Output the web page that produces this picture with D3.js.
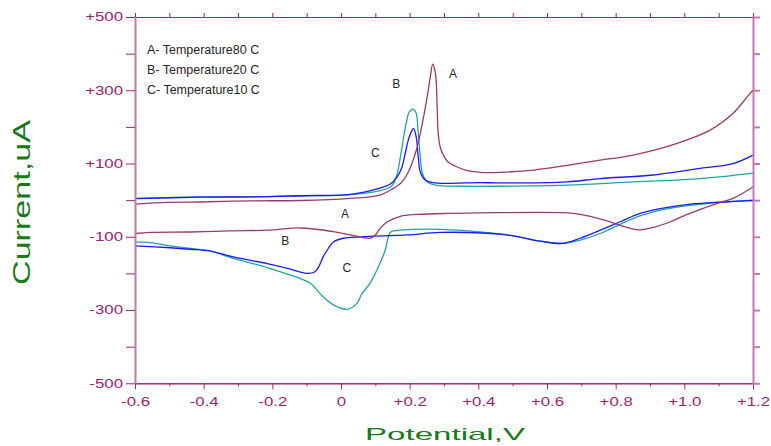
<!DOCTYPE html>
<html>
<head>
<meta charset="utf-8">
<script src="https://cdn.jsdelivr.net/npm/d3@7"></script>
<style>
  html, body { margin: 0; padding: 0; background: #fff; }
  svg { display: block; font-family: Arial, "Liberation Sans", sans-serif; }
</style>
</head>
<body>
<div id="chart"></div>
<script>
// curve A - 80 C, forward sweep
let potAfwd = [-0.60, -0.526, -0.41, -0.264, -0.118, 0.027, 0.114, 0.152, 0.178, 0.196, 0.210, 0.222, 0.237, 0.251, 0.260, 0.267,
    0.275, 0.280, 0.283, 0.289, 0.298, 0.312, 0.333, 0.362, 0.406, 0.464, 0.562, 0.659, 0.755, 0.851, 0.979, 1.075, 1.142, 1.183, 1.20];
let curAfwd = [-11, -7, -5, -2, -1, 5, 14, 32, 50, 77, 109, 145, 210, 282, 336, 371,
    346, 255, 183, 145, 123, 104, 93, 82, 76, 76, 82, 95, 109, 123, 155, 191, 237, 282, 300];
// curve A, reverse sweep
let potArev = [1.20, 1.142, 1.105, 1.047, 1.003, 0.959, 0.915, 0.871, 0.828, 0.784, 0.726, 0.676, 0.639, 0.464, 0.318, 0.222, 0.173,
    0.135, 0.114, 0.100, 0.085, 0.065, 0.027, -0.022, -0.118, -0.215, -0.322, -0.439, -0.555, -0.60];
let curArev = [36, 5, -6, -25, -41, -59, -73, -81, -73, -59, -44, -36, -34, -34, -36, -39, -44,
    -59, -77, -95, -104, -102, -95, -86, -76, -82, -84, -87, -88, -91];

// curve B - 20 C
let potBfwd = [-0.60, -0.41, -0.264, -0.118, 0.027, 0.09, 0.144, 0.164, 0.178, 0.187, 0.196, 0.207, 0.211, 0.219, 0.225, 0.231,
    0.245, 0.275, 0.406, 0.464, 0.659, 0.755, 0.901, 1.047, 1.142, 1.20];
let curBfwd = [4, 8, 9, 12, 16, 27, 44, 64, 91, 128, 164, 191, 196, 173, 118, 77,
    55, 47, 48, 47, 50, 59, 68, 87, 100, 123];
let potBrev = [1.20, 1.114, 1.017, 0.93, 0.871, 0.813, 0.755, 0.697, 0.647, 0.58, 0.484, 0.29, 0.193, 0.056, 0.007, -0.022, -0.037,
    -0.052, -0.066, -0.078, -0.095, -0.115, -0.156, -0.215, -0.314, -0.38, -0.439, -0.497, -0.60];
let curBrev = [-1, -5, -11, -23, -36, -59, -82, -104, -118, -112, -95, -88, -95, -100, -104, -114, -132,
    -155, -184, -197, -200, -197, -186, -173, -155, -139, -134, -130, -125];

// curve C - 10 C
let potCfwd = [-0.60, -0.41, -0.264, -0.118, 0.027, 0.144, 0.161, 0.173, 0.181, 0.19, 0.199, 0.211, 0.219, 0.225, 0.231, 0.237,
    0.251, 0.275, 0.347, 0.464, 0.659, 0.851, 1.047, 1.20];
let curCfwd = [5, 9, 9, 12, 15, 36, 64, 118, 164, 210, 241, 248, 237, 183, 118, 74,
    50, 41, 38, 38, 41, 50, 59, 74];
let potCrev = [1.20, 1.114, 1.017, 0.93, 0.871, 0.813, 0.755, 0.697, 0.647, 0.58, 0.484, 0.29, 0.173, 0.146, 0.138, 0.129, 0.109,
    0.085, 0.059, 0.047, 0.018, -0.022, -0.052, -0.089, -0.118, -0.147, -0.215, -0.314, -0.38, -0.439, -0.497, -0.555, -0.60];
let curCrev = [0, -5, -14, -27, -43, -66, -91, -109, -118, -112, -95, -80, -82, -86, -100, -136, -182,
    -226, -259, -281, -298, -286, -264, -227, -214, -205, -184, -159, -139, -132, -125, -116, -114];

let legendLabels = ['A- Temperature80 C', 'B- Temperature20 C', 'C- Temperature10 C'];

// curve letters placed next to the traces, in data units
let markNames = ['A', 'B', 'C', 'A', 'B', 'C'];
let markPot = [0.326, 0.161, 0.100, 0.012, -0.162, 0.017];
let markCur = [344, 318, 129, -36, -111, -183];

let xTicks = [-0.6, -0.4, -0.2, 0, 0.2, 0.4, 0.6, 0.8, 1.0, 1.2];
let xMinor = [-0.5, -0.3, -0.1, 0.1, 0.3, 0.5, 0.7, 0.9, 1.1];
let yTicks = [-500, -400, -300, -200, -100, 0, 100, 200, 300, 400, 500];

let width = 771, height = 446;
let svg = d3.select('#chart').append('svg')
    .attr('width', width)
    .attr('height', height);

svg.append('rect').attr('width', width).attr('height', height).attr('fill', '#fff');

let x = d3.scaleLinear().domain([-0.6, 1.2]).range([135, 753]);
let y = d3.scaleLinear().domain([-500, 500]).range([383.3, 17]);

let tickColor = '#a0226e';
let sideColor = '#c678b0';

// stretch text horizontally like the original export
function stretch(sel, factor) {
    sel.each(function () {
        let l = this.getComputedTextLength();
        d3.select(this).attr('textLength', l * factor).attr('lengthAdjust', 'spacingAndGlyphs');
    });
}

function fmtX(d) {
    if (d == 0) return '0';
    return (d > 0 ? '+' : '') + d.toFixed(1);
}
function fmtY(d) {
    if (Math.abs(d / 100) % 2 != 1) return '';
    return (d > 0 ? '+' : '') + d;
}

function styleAxis(g, stroke, sw) {
    g.select('.domain').attr('stroke', stroke).attr('stroke-width', sw);
    g.selectAll('.tick line').attr('stroke', tickColor);
    g.selectAll('.tick text')
        .attr('fill', tickColor)
        .style('font-size', '12px')
        .style('font-family', 'Arial, "Liberation Sans", sans-serif');
}

// traces first, axes on top (right axis hides the turn-around jump)
let line = d3.line()
    .x(d => x(d[0]))
    .y(d => y(d[1]))
    .curve(d3.curveCatmullRom.alpha(0.5));

let series = [
    {pot: potCfwd, cur: curCfwd, color: '#22a3a3'},
    {pot: potCrev, cur: curCrev, color: '#22a3a3'},
    {pot: potBfwd, cur: curBfwd, color: '#1a1aff'},
    {pot: potBrev, cur: curBrev, color: '#1a1aff'},
    {pot: potAfwd, cur: curAfwd, color: '#9c3a6e'},
    {pot: potArev, cur: curArev, color: '#9c3a6e'}
];
series.forEach(function (s) {
    svg.append('path')
        .datum(d3.zip(s.pot, s.cur))
        .attr('fill', 'none')
        .attr('stroke', s.color)
        .attr('stroke-width', 1.3)
        .attr('stroke-linejoin', 'round')
        .attr('d', line);
});

// top
let gTop = svg.append('g').attr('transform', 'translate(0,17)')
    .call(d3.axisTop(x).tickValues(xTicks.concat(xMinor)).tickSize(4).tickSizeOuter(0).tickFormat(''));
styleAxis(gTop, tickColor, 1);

// bottom minor + major
let gBotMinor = svg.append('g').attr('transform', 'translate(0,383.3)')
    .call(d3.axisBottom(x).tickValues(xMinor).tickSize(3).tickSizeOuter(0).tickFormat(''));
styleAxis(gBotMinor, tickColor, 1);
let gBot = svg.append('g').attr('transform', 'translate(0,383.3)')
    .call(d3.axisBottom(x).tickValues(xTicks).tickSize(6).tickPadding(8).tickSizeOuter(0).tickFormat(fmtX));
styleAxis(gBot, tickColor, 1);
stretch(gBot.selectAll('.tick text'), 1.4);

// left
let gLeft = svg.append('g').attr('transform', 'translate(135,0)')
    .call(d3.axisLeft(y).tickValues(yTicks).tickSize(9).tickPadding(3).tickSizeOuter(0).tickFormat(fmtY));
styleAxis(gLeft, sideColor, 2);
stretch(gLeft.selectAll('.tick text'), 1.4);

// right
let gRight = svg.append('g').attr('transform', 'translate(753,0)')
    .call(d3.axisRight(y).tickValues(yTicks).tickSize(7).tickSizeOuter(0).tickFormat(''));
styleAxis(gRight, sideColor, 2);
gRight.selectAll('.tick line').attr('stroke', sideColor).attr('stroke-width', 2);

// legend
let leg = svg.append('g').selectAll('text')
    .data(legendLabels)
    .enter().append('text')
    .attr('x', 147)
    .attr('y', (d, i) => 54 + i * 20)
    .attr('fill', '#262626')
    .style('font-size', '12px')
    .text(d => d);
stretch(leg, 1.04);

// curve letters
svg.append('g').selectAll('text')
    .data(markNames)
    .enter().append('text')
    .attr('x', (d, i) => x(markPot[i]))
    .attr('y', (d, i) => y(markCur[i]))
    .attr('dy', '0.36em')
    .attr('text-anchor', 'middle')
    .attr('fill', '#262626')
    .style('font-size', '12px')
    .text(d => d);

// axis titles
let xt = svg.append('text')
    .attr('x', 445)
    .attr('y', 440)
    .attr('text-anchor', 'middle')
    .attr('fill', '#177a17')
    .style('font-size', '17px')
    .text('Potential,V');
xt.attr('textLength', 160).attr('lengthAdjust', 'spacingAndGlyphs');

let yt = svg.append('text')
    .attr('transform', 'translate(29.5,202.5) rotate(-90)')
    .attr('text-anchor', 'middle')
    .attr('fill', '#177a17')
    .style('font-size', '23px')
    .text('Current,uA');
yt.attr('textLength', 165).attr('lengthAdjust', 'spacingAndGlyphs');
</script>
</body>
</html>
